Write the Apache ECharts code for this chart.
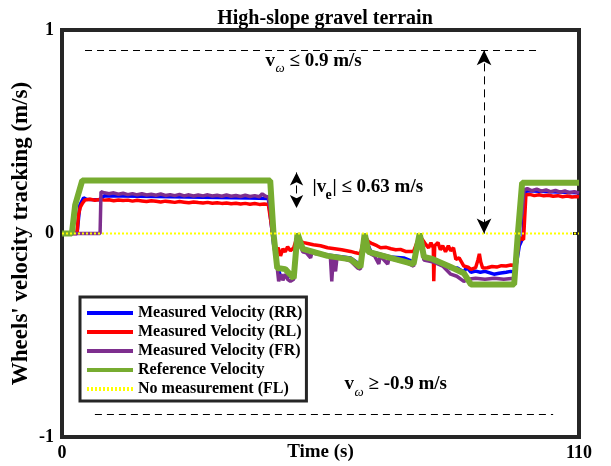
<!DOCTYPE html>
<html><head><meta charset="utf-8">
<script src="https://cdn.jsdelivr.net/npm/echarts/dist/echarts.min.js"></script>
<style>html,body{margin:0;padding:0;background:#fff}#c{width:611px;height:466px}</style>
</head><body><div id="c"></div>
<script>
// ---------- data ----------
const timeRange = [0, 110];
const yRange = [-1, 1];
const seriesNames = ['Measured Velocity (RR)', 'Measured Velocity (RL)', 'Measured Velocity (FR)', 'Reference Velocity', 'No measurement (FL)'];

const refVel = [[0,0],[2.1,0],[2.8,0.14],[4.3,0.26],[44.3,0.26],[45,0],[45.8,-0.17],[47.5,-0.175],[49.3,-0.22],[50.1,0],[51.2,-0.075],[56.5,-0.11],[61.4,-0.127],[63.5,-0.165],[64.4,0],[65.2,-0.09],[69.9,-0.12],[74.8,-0.15],[76.1,0],[77,-0.115],[78.8,-0.125],[82.7,-0.165],[85.5,-0.195],[87,-0.25],[96.2,-0.25],[97,0],[97.9,0.25],[110,0.25]];

const rrVel = [[0,0],[3.2,0],[3.8,0.14],[4.6,0.175],[5.2,0.168],[6,0.167],[8,0.166],[9,0.185],[20,0.182],[30,0.178],[40,0.175],[43.9,0.172],[44.5,0.05],[45,-0.05],[45.8,-0.16],[46.5,-0.21],[48,-0.21],[49.3,-0.21],[50.1,-0.01],[51.2,-0.08],[56.5,-0.105],[61.4,-0.12],[63.5,-0.155],[64.4,-0.01],[65.7,-0.09],[69.9,-0.115],[72.7,-0.12],[74.8,-0.14],[76.1,-0.01],[77,-0.115],[79,-0.125],[81,-0.145],[82.7,-0.172],[84.2,-0.17],[85.5,-0.19],[86.1,-0.165],[87,-0.19],[88,-0.185],[89,-0.19],[90,-0.186],[91.9,-0.2],[93,-0.195],[94.5,-0.19],[95.5,-0.186],[96.4,-0.19],[97.3,-0.06],[98.1,-0.02],[98.4,0.2],[99,0.21],[104,0.205],[110,0.2]];

const rlVel = [[0,0],[3.2,0],[3.5,0.09],[3.9,0.13],[4.4,0.15],[4.9,0.165],[6,0.168],[7,0.163],[8,0.167],[9,0.164],[10,0.166],[11,0.161],[12,0.165],[13,0.162],[14,0.164],[15,0.159],[16,0.163],[17,0.16],[18,0.157],[19,0.161],[20,0.158],[21,0.155],[22,0.159],[23,0.156],[24,0.153],[25,0.157],[26,0.154],[27,0.151],[28,0.155],[29,0.152],[30,0.15],[31,0.153],[32,0.149],[33,0.151],[34,0.148],[35,0.15],[36,0.146],[37,0.149],[38,0.145],[39,0.148],[40,0.144],[41,0.147],[42,0.143],[43,0.145],[43.9,0.142],[44.5,0.05],[44.9,-0.02],[45.4,-0.09],[46,-0.07],[46.5,-0.11],[47,-0.075],[47.5,-0.09],[48,-0.065],[48.6,-0.085],[49.3,-0.07],[50.1,-0.01],[50.7,-0.04],[51.5,-0.045],[52.5,-0.05],[53.5,-0.055],[55,-0.06],[56.5,-0.07],[58,-0.075],[59.5,-0.08],[61.4,-0.088],[62.5,-0.095],[63.5,-0.1],[64.4,-0.01],[65.2,-0.04],[66,-0.05],[67,-0.06],[67.8,-0.07],[69,-0.068],[70,-0.075],[71,-0.08],[72,-0.078],[73.1,-0.088],[74.8,-0.088],[76.1,-0.01],[77.4,-0.054],[78,-0.07],[78.5,-0.045],[79,-0.07],[79.1,-0.235],[79.3,-0.06],[80,-0.045],[80.5,-0.08],[81,-0.06],[81.6,-0.09],[82.2,-0.06],[82.7,-0.085],[83.3,-0.07],[83.8,-0.127],[84.5,-0.12],[85.5,-0.16],[86.4,-0.165],[87,-0.176],[88,-0.168],[88.5,-0.13],[88.8,-0.1],[89.1,-0.14],[89.5,-0.17],[90.5,-0.168],[91.5,-0.162],[92.5,-0.165],[93.5,-0.158],[94.5,-0.16],[95.5,-0.155],[96.6,-0.157],[97.3,-0.02],[98.2,-0.03],[98.7,0.19],[99.5,0.192],[100.5,0.186],[101.5,0.19],[102.5,0.185],[103.5,0.188],[104.5,0.183],[105.5,0.186],[106.5,0.181],[107.5,0.184],[108.5,0.179],[109.5,0.182],[110,0.18]];

const frVel = [[0,0],[8.1,0],[8.3,0.205],[9,0.2],[10,0.195],[11,0.2],[12,0.193],[13,0.198],[14,0.191],[15,0.196],[16,0.19],[17,0.195],[18,0.189],[19,0.193],[20,0.188],[21,0.194],[22,0.187],[23,0.191],[24,0.186],[25,0.192],[26,0.185],[27,0.19],[28,0.184],[29,0.189],[30,0.185],[31,0.19],[32,0.184],[33,0.188],[34,0.183],[35,0.189],[36,0.183],[37,0.187],[38,0.182],[39,0.188],[40,0.182],[41,0.186],[42,0.181],[42.6,0.195],[43.3,0.183],[43.9,0.18],[44.3,0.12],[45,0],[45.8,-0.17],[46.1,-0.235],[46.6,-0.2],[47,-0.23],[47.5,-0.2],[48,-0.225],[48.6,-0.235],[49.3,-0.225],[50.1,-0.01],[51.2,-0.09],[52,-0.095],[52.9,-0.12],[53.2,-0.09],[54,-0.1],[55,-0.1],[56,-0.11],[57.1,-0.115],[57.4,-0.235],[57.7,-0.12],[58.2,-0.186],[58.5,-0.12],[60,-0.125],[61.4,-0.135],[62.9,-0.17],[63.5,-0.175],[64.4,-0.01],[65.7,-0.1],[66.5,-0.11],[67.4,-0.15],[67.7,-0.11],[69.3,-0.15],[69.6,-0.12],[71,-0.13],[73,-0.14],[74.8,-0.16],[76.1,-0.01],[77,-0.13],[79,-0.14],[81,-0.16],[82.7,-0.2],[84,-0.21],[85.5,-0.235],[86.4,-0.225],[88,-0.22],[90,-0.225],[92,-0.22],[94,-0.225],[96.2,-0.22],[97,-0.01],[97.9,0.1],[98.3,0.215],[99,0.22],[100,0.21],[101,0.218],[102,0.208],[103,0.214],[104,0.205],[105,0.212],[106,0.203],[107,0.209],[108,0.2],[109,0.206],[110,0.198]];

const flVel = [[0,0],[110,0]];

const limitUpper = 0.9, limitLower = -0.89;
const upperSpan = [4.9, 101.9], lowerSpan = [7, 104.5];
const bigArrow = {t: 89.8, from: 0.9, to: 0};
const smallArrow = {t: 49.9, from: 0.30, to: 0.125};

// ---------- chart ----------
const FONT = "'Liberation Serif','Times New Roman',serif";
const FRAME = '#262626';
const chart = echarts.init(document.getElementById('c'), null, {renderer: 'canvas'});

function line(name, data, color, width, extra) {
  return Object.assign({
    name, type: 'line', data, showSymbol: false, symbol: 'none', animation: false,
    lineStyle: {color, width}, itemStyle: {color}, silent: true
  }, extra || {});
}

const option = {
  animation: false,
  backgroundColor: '#fff',
  title: {
    text: 'High-slope gravel terrain', left: 320, top: 4, textAlign: 'center',
    textStyle: {fontFamily: FONT, fontWeight: 'bold', fontSize: 20, color: '#000'}
  },
  grid: {left: 62, right: 32, top: 30, bottom: 29, show: true, borderColor: FRAME, borderWidth: 4,
         backgroundColor: 'transparent', containLabel: false, outerBoundsMode: 'none'},
  legend: {
    data: seriesNames, orient: 'vertical', left: 80, top: 297,
    padding: [8, 4, 4, 5], itemWidth: 46, itemHeight: 14, itemGap: 3,
    backgroundColor: '#fff', borderColor: FRAME, borderWidth: 3, borderRadius: 0,
    selectedMode: false,
    itemStyle: {opacity: 0, color: 'transparent', borderWidth: 0},
    lineStyle: {width: 4},
    textStyle: {fontFamily: FONT, fontWeight: 'bold', fontSize: 16, color: '#000'}
  },
  xAxis: {
    type: 'value', min: timeRange[0], max: timeRange[1], interval: 110,
    name: 'Time (s)', nameLocation: 'middle', nameGap: 6, nameMoveOverlap: false,
    nameTextStyle: {fontFamily: FONT, fontWeight: 'bold', fontSize: 19, color: '#000', verticalAlign: 'top'},
    axisLine: {show: false}, splitLine: {show: false},
    axisTick: {show: false},
    axisLabel: {fontFamily: FONT, fontWeight: 'bold', fontSize: 18, color: '#000', margin: 7}
  },
  yAxis: [{
    type: 'value', min: yRange[0], max: yRange[1], interval: 1,
    name: "Wheels' velocity tracking (m/s)", nameLocation: 'middle', nameGap: 29, nameMoveOverlap: false,
    nameTextStyle: {fontFamily: FONT, fontWeight: 'bold', fontSize: 23, color: '#000'},
    axisLine: {show: false}, splitLine: {show: false},
    axisTick: {show: true, inside: true, length: 6, lineStyle: {color: FRAME, width: 3}},
    axisLabel: {fontFamily: FONT, fontWeight: 'bold', fontSize: 18, color: '#000', margin: 8}
  }, {
    type: 'value', min: yRange[0], max: yRange[1], interval: 1, position: 'right',
    axisLine: {show: false}, splitLine: {show: false}, axisLabel: {show: false},
    axisTick: {show: true, inside: true, length: 6, lineStyle: {color: FRAME, width: 3}}
  }],
  series: [
    line(seriesNames[0], rrVel, '#0000ff', 3.5),
    line(seriesNames[1], rlVel, '#ff0000', 3.5),
    line(seriesNames[2], frVel, '#7e2f8e', 3.5),
    line(seriesNames[3], refVel, '#77ac30', 6),
    line(seriesNames[4], flVel, '#ffff00', 2, {lineStyle: {color: '#ffff00', width: 2, type: [2, 2]}}),
    {
      type: 'line', data: [], silent: true, animation: false,
      markLine: {
        silent: true, animation: false, symbol: ['none', 'none'], label: {show: false},
        lineStyle: {type: [7, 5], color: '#000', width: 1},
        data: [
          [{coord: [upperSpan[0], limitUpper]}, {coord: [upperSpan[1], limitUpper]}],
          [{coord: [lowerSpan[0], limitLower]}, {coord: [lowerSpan[1], limitLower]}]
        ]
      }
    },
    {
      type: 'line', data: [], silent: true, animation: false,
      markLine: {
        silent: true, animation: false, symbol: ['arrow', 'arrow'], symbolSize: [11, 15], label: {show: false},
        lineStyle: {type: [8, 5], color: '#000', width: 1},
        data: [
          [{coord: [bigArrow.t, bigArrow.from]}, {coord: [bigArrow.t, bigArrow.to]}],
          [{coord: [smallArrow.t, smallArrow.from], symbolSize: [10, 13]}, {coord: [smallArrow.t, smallArrow.to], symbolSize: [10, 13]}]
        ]
      }
    }
  ]
};
chart.setOption(option);

// ---------- annotation texts ----------
function P(t, v) { return chart.convertToPixel({gridIndex: 0}, [t, v]); }
function txt(x, y, s, size, extra) {
  return Object.assign({
    type: 'text', x, y, silent: true, z: 100,
    style: {text: s, fontFamily: FONT, fontWeight: 'bold', fontSize: size, fill: '#000', verticalAlign: 'middle', align: 'left'}
  }, extra || {});
}
function omega(x, y) {
  return {type: 'text', x, y, silent: true, z: 100,
    style: {text: 'ω', fontFamily: FONT, fontStyle: 'italic', fontSize: 13, fill: '#000', verticalAlign: 'middle', align: 'left'}};
}
const a1 = P(43.3, 0.848), a2 = P(53.3, 0.228), a3 = P(60.1, -0.74);
const g = [];
g.push(txt(a1[0], a1[1], 'v', 19));
g.push(omega(a1[0] + 10, a1[1] + 8));
g.push(txt(a1[0] + 24, a1[1], '≤ 0.9 m/s', 19));
g.push(txt(a2[0], a2[1], '|v', 19));
g.push(txt(a2[0] + 13, a2[1] + 8, 'e', 14));
g.push(txt(a2[0] + 20, a2[1], '| ≤ 0.63 m/s', 19));
g.push(txt(a3[0], a3[1], 'v', 19));
g.push(omega(a3[0] + 10, a3[1] + 8));
g.push(txt(a3[0] + 24, a3[1], '≥ -0.9 m/s', 19));
chart.setOption({graphic: g});
</script></body></html>
